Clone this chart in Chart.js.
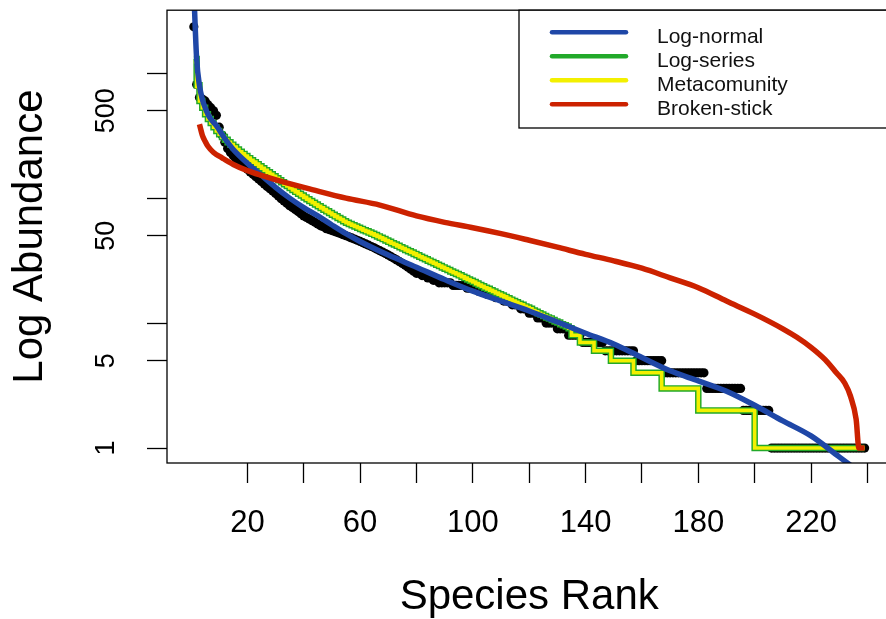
<!DOCTYPE html>
<html lang="en">

<head>
    <meta charset="UTF-8">
    <title>Rank Abundance</title>
    <script src="https://cdn.jsdelivr.net/npm/chart.js"></script>
    <style>
        html, body { margin: 0; padding: 0; background: #fff; overflow: hidden; }
        .wrap { position: relative; width: 896px; height: 619px; }
    </style>
</head>

<body>
    <div class="wrap"><canvas id="radChart"></canvas></div>

    <script>
        // observed abundance of each species, by rank (1..239)
        const observed = [
            2350, 810, 640, 620, 600, 560, 530, 500, 460, 370,
            320, 280, 250, 232, 218, 205, 195, 186, 178, 170,
            162, 155, 148, 142, 136, 130, 124, 119, 114, 109,
            104, 99, 95, 91, 87, 84, 81, 78, 75, 72,
            70, 68, 66, 64, 62, 60, 59, 57, 56, 55,
            54, 53, 52, 51, 50, 49, 48, 47, 46, 45,
            44, 43, 42, 41, 40, 39, 38, 37, 36, 35,
            34, 33, 32, 31, 30, 29, 28, 27, 26, 25,
            25, 24, 24, 23, 23, 22, 22, 21, 21, 21,
            21, 21, 20, 20, 20, 20, 20, 19, 19, 19,
            19, 18, 18, 18, 17, 17, 17, 16, 16, 16,
            15, 15, 15, 14, 14, 14, 13, 13, 13, 12,
            12, 12, 11, 11, 11, 10, 10, 10, 10, 9,
            9, 9, 9, 8, 8, 8, 8, 8, 7, 7,
            7, 7, 7, 7, 7, 7, 6, 6, 6, 6,
            6, 6, 6, 6, 6, 6, 6, 5, 5, 5,
            5, 5, 5, 5, 5, 5, 5, 4, 4, 4,
            4, 4, 4, 4, 4, 4, 4, 4, 4, 4,
            4, 4, 3, 3, 3, 3, 3, 3, 3, 3,
            3, 3, 3, 3, 3, 2, 2, 2, 2, 2,
            2, 2, 2, 2, 2, 1, 1, 1, 1, 1,
            1, 1, 1, 1, 1, 1, 1, 1, 1, 1,
            1, 1, 1, 1, 1, 1, 1, 1, 1, 1,
            1, 1, 1, 1, 1, 1, 1, 1, 1
        ];

        // fitted models
        const logNormalRanks = [1, 2, 3, 4, 5, 6, 7, 9, 12, 15, 20, 25, 30, 35, 40, 45, 50, 55, 60, 65,
            70, 80, 90, 100, 110, 120, 130, 140, 150, 160, 170, 180, 190, 200, 210, 220, 230, 239];
        const logNormal = [4500, 1300, 800, 620, 530, 470, 430, 380, 300, 245, 190, 152, 122, 100, 84, 72, 61, 52, 45, 39.5,
            35, 28, 22.3, 18, 15, 12.5, 10.2, 8.3, 6.8, 5.3, 4.15, 3.45, 2.85, 2.2, 1.65, 1.25, 0.85, 0.6];

        const logSeries = [
            1300, 800, 600, 530, 470, 430, 400, 370, 345, 325,
            308, 293, 280, 268, 256, 245, 235, 226, 217, 209,
            201, 194, 187, 180, 173.5, 167.2, 161.2, 155.4, 149.8, 144.4,
            139.2, 134.2, 129.4, 124.9, 120.5, 116.3, 112.3, 108.5, 104.9, 101.4,
            98.1, 94.9, 91.9, 89, 86.2, 83.5, 80.9, 78.4, 76, 73.7,
            71.5, 69.4, 67.4, 65.4, 63.5, 62.1, 60.7, 59.3, 58, 56.7,
            55.4, 54.2, 53, 51.8, 50.6, 49.4, 48.2, 47, 45.8, 44.7,
            43.6, 42.5, 41.5, 40.5, 39.5, 38.5, 37.6, 36.7, 35.8, 34.9,
            34, 33.2, 32.4, 31.6, 30.8, 30.1, 29.3, 28.6, 27.9, 27.2,
            26.6, 25.9, 25.3, 24.7, 24.1, 23.5, 22.9, 22.3, 21.8, 21.3,
            20.7, 20.2, 19.7, 19.2, 18.8, 18.3, 17.9, 17.4, 17, 16.6,
            16.2, 15.8, 15.4, 15, 14.7, 14.3, 14, 13.6, 13.3, 13,
            12.6, 12.3, 12, 11.7, 11.4, 11.1, 10.9, 10.6, 10.3, 10.1,
            9.8, 9.6, 9.4, 9.1, 8, 8, 8, 7, 7, 7,
            7, 7, 6, 6, 6, 6, 6, 6, 5, 5,
            5, 5, 5, 5, 5, 5, 4, 4, 4, 4,
            4, 4, 4, 4, 4, 4, 3, 3, 3, 3,
            3, 3, 3, 3, 3, 3, 3, 3, 3, 2,
            2, 2, 2, 2, 2, 2, 2, 2, 2, 2,
            2, 2, 2, 2, 2, 2, 2, 2, 2, 1,
            1, 1, 1, 1, 1, 1, 1, 1, 1, 1,
            1, 1, 1, 1, 1, 1, 1, 1, 1, 1,
            1, 1, 1, 1, 1, 1, 1, 1, 1, 1,
            1, 1, 1, 1, 1, 1, 1, 1, 1
        ];

        const metacommunity = [
            1236, 780, 600, 530, 470, 430, 400, 370, 345, 325,
            308, 293, 280, 268, 256, 245, 235, 226, 217, 209,
            201, 194, 187, 180, 173.5, 167.2, 161.2, 155.4, 149.8, 144.4,
            139.2, 134.2, 129.4, 124.9, 120.5, 116.3, 112.3, 108.5, 104.9, 101.4,
            98.1, 94.9, 91.9, 89, 86.2, 83.5, 80.9, 78.4, 76, 73.7,
            71.5, 69.4, 67.4, 65.4, 63.5, 62.1, 60.7, 59.3, 58, 56.7,
            55.4, 54.2, 53, 51.8, 50.6, 49.4, 48.2, 47, 45.8, 44.7,
            43.6, 42.5, 41.5, 40.5, 39.5, 38.5, 37.6, 36.7, 35.8, 34.9,
            34, 33.2, 32.4, 31.6, 30.8, 30.1, 29.3, 28.6, 27.9, 27.2,
            26.6, 25.9, 25.3, 24.7, 24.1, 23.5, 22.9, 22.3, 21.8, 21.3,
            20.7, 20.2, 19.7, 19.2, 18.8, 18.3, 17.9, 17.4, 17, 16.6,
            16.2, 15.8, 15.4, 15, 14.7, 14.3, 14, 13.6, 13.3, 13,
            12.6, 12.3, 12, 11.7, 11.4, 11.1, 10.9, 10.6, 10.3, 10.1,
            9.8, 9.6, 9.4, 9.1, 8, 8, 8, 7, 7, 7,
            7, 7, 6, 6, 6, 6, 6, 6, 5, 5,
            5, 5, 5, 5, 5, 5, 4, 4, 4, 4,
            4, 4, 4, 4, 4, 4, 3, 3, 3, 3,
            3, 3, 3, 3, 3, 3, 3, 3, 3, 2,
            2, 2, 2, 2, 2, 2, 2, 2, 2, 2,
            2, 2, 2, 2, 2, 2, 2, 2, 2, 1,
            1, 1, 1, 1, 1, 1, 1, 1, 1, 1,
            1, 1, 1, 1, 1, 1, 1, 1, 1, 1,
            1, 1, 1, 1, 1, 1, 1, 1, 1, 1,
            1, 1, 1, 1, 1, 1, 1, 1, 1
        ];

        const brokenStickRanks = [3, 4, 5, 6, 8, 11, 15, 20, 25, 32, 43, 55, 67, 80, 90, 100, 110, 120, 130, 140,
            150, 160, 170, 180, 190, 200, 210, 215, 220, 225, 229, 232, 234, 236, 237, 239];
        const brokenStick = [390, 320, 285, 260, 232, 210, 186, 166, 152, 136, 117, 100, 88, 72, 64, 58, 52, 46, 40.5, 35.5,
            31.5, 27.5, 23, 19.2, 15, 11.8, 9, 7.7, 6.4, 5.1, 4, 3.3, 2.6, 1.7, 1, 1];

        const xTicks = [20, 40, 60, 80, 100, 120, 140, 160, 180, 200, 220, 240];
        const xLabels = [20, 60, 100, 140, 180, 220];
        const yTicks = [1, 5, 10, 50, 100, 500, 1000];
        const yLabels = [1, 5, 50, 500];

        const legendNames = ['Log-normal', 'Log-series', 'Metacomunity', 'Broken-stick'];
        const legendColors = ['#1f47a7', '#22a92a', '#f3f000', '#cc2200'];

        const FONT = '"Liberation Sans", Arial, sans-serif';
        const ranks = observed.map((_, i) => i + 1);
        const toPoints = (xs, ys) => xs.map((x, i) => ({ x: x, y: ys[i] }));

        // box, rotated y tick labels and legend, R style
        const decorations = {
            id: 'decorations',
            afterDraw(chart) {
                const { ctx, chartArea } = chart;
                const yScale = chart.scales.y;
                ctx.save();

                ctx.strokeStyle = '#000';
                ctx.lineWidth = 1.3;
                ctx.strokeRect(chartArea.left, chartArea.top, chartArea.right - chartArea.left, chartArea.bottom - chartArea.top);

                ctx.fillStyle = '#000';
                ctx.font = '27px ' + FONT;
                ctx.textAlign = 'center';
                ctx.textBaseline = 'middle';
                yLabels.forEach(v => {
                    ctx.save();
                    ctx.translate(107, yScale.getPixelForValue(v));
                    ctx.rotate(-Math.PI / 2);
                    ctx.fillText(String(v), 0, 0);
                    ctx.restore();
                });

                // legend
                const boxLeft = 519, boxTop = chartArea.top, boxBottom = 128;
                ctx.fillStyle = '#fff';
                ctx.fillRect(boxLeft, boxTop, chartArea.right - boxLeft, boxBottom - boxTop);
                ctx.strokeRect(boxLeft, boxTop, chartArea.right - boxLeft, boxBottom - boxTop);
                ctx.lineCap = 'round';
                ctx.lineWidth = 4.5;
                ctx.font = '21px ' + FONT;
                ctx.textAlign = 'left';
                ctx.textBaseline = 'alphabetic';
                legendNames.forEach((name, i) => {
                    const ly = 32.3 + i * 24;
                    ctx.strokeStyle = legendColors[i];
                    ctx.beginPath();
                    ctx.moveTo(552, ly);
                    ctx.lineTo(626, ly);
                    ctx.stroke();
                    ctx.fillStyle = '#111';
                    ctx.fillText(name, 657, ly + 10.7);
                });
                ctx.restore();
            }
        };

        const ctx = document.getElementById('radChart').getContext('2d');
        new Chart(ctx, {
            type: 'line',
            data: {
                datasets: [{
                    label: 'Observed',
                    data: toPoints(ranks, observed),
                    showLine: false,
                    pointRadius: 4.6,
                    pointBorderWidth: 0,
                    pointBackgroundColor: '#000',
                    borderColor: '#000',
                    order: 5
                }, {
                    label: legendNames[1],
                    data: toPoints(ranks, logSeries),
                    borderColor: legendColors[1],
                    borderWidth: 6.5,
                    stepped: 'before',
                    pointRadius: 0,
                    order: 4
                }, {
                    label: legendNames[2],
                    data: toPoints(ranks, metacommunity),
                    borderColor: legendColors[2],
                    borderWidth: 3.6,
                    stepped: 'before',
                    pointRadius: 0,
                    order: 3
                }, {
                    label: legendNames[0],
                    data: toPoints(logNormalRanks, logNormal),
                    borderColor: legendColors[0],
                    borderWidth: 5.5,
                    cubicInterpolationMode: 'monotone',
                    pointRadius: 0,
                    order: 2
                }, {
                    label: legendNames[3],
                    data: toPoints(brokenStickRanks, brokenStick),
                    borderColor: legendColors[3],
                    borderWidth: 5.5,
                    cubicInterpolationMode: 'monotone',
                    pointRadius: 0,
                    order: 1
                }]
            },
            options: {
                responsive: true,
                maintainAspectRatio: false,
                animation: false,
                layout: { padding: { top: 8, right: 1, left: 0, bottom: 0 } },
                plugins: {
                    legend: { display: false },
                    tooltip: { enabled: false }
                },
                scales: {
                    x: {
                        type: 'linear',
                        min: -8.52,
                        max: 248.52,
                        border: { display: false },
                        grid: { drawOnChartArea: false, drawTicks: true, tickLength: 20, tickColor: '#000', tickWidth: 1.3 },
                        afterBuildTicks: s => { s.ticks = xTicks.map(v => ({ value: v })); },
                        afterFit: s => { s.height = 156; },
                        ticks: {
                            autoSkip: false,
                            maxRotation: 0,
                            minRotation: 0,
                            padding: 22,
                            color: '#000',
                            font: { family: FONT, size: 31 },
                            callback: v => xLabels.includes(v) ? String(v) : ''
                        },
                        title: {
                            display: true,
                            text: 'Species Rank',
                            color: '#000',
                            font: { family: FONT, size: 42, lineHeight: 1 },
                            padding: { top: 0, bottom: 1 }
                        }
                    },
                    y: {
                        type: 'logarithmic',
                        min: 0.759,
                        max: 3192,
                        border: { display: false },
                        grid: { drawOnChartArea: false, drawTicks: true, tickLength: 20, tickColor: '#000', tickWidth: 1.3 },
                        afterBuildTicks: s => { s.ticks = yTicks.map(v => ({ value: v })); },
                        afterFit: s => { s.width = 167; },
                        ticks: {
                            color: 'rgba(0,0,0,0)',
                            callback: () => ''
                        },
                        title: {
                            display: true,
                            text: 'Log Abundance',
                            color: '#000',
                            font: { family: FONT, size: 42, lineHeight: 1 },
                            padding: { top: 9, bottom: 0 }
                        }
                    }
                }
            },
            plugins: [decorations]
        });
    </script>
</body>

</html>
